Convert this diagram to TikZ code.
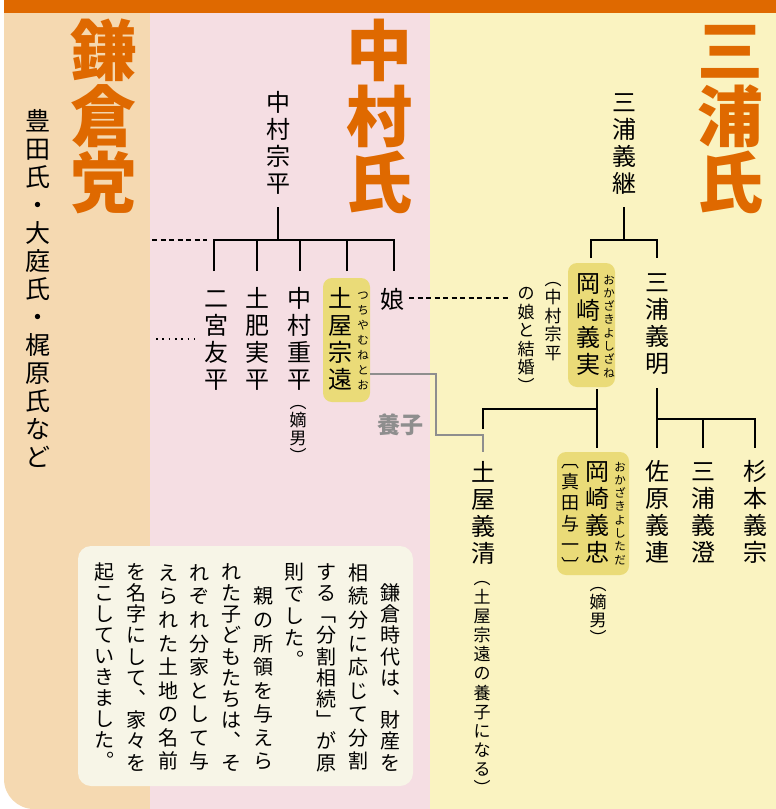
\documentclass[tikz,border=0pt]{standalone}
\usepackage{fontspec}
\newfontfamily\jp{Noto Sans CJK JP}
\definecolor{orng}{HTML}{DF6900}
\definecolor{beige}{HTML}{F5D9B1}
\definecolor{pinkbg}{HTML}{F5DEE3}
\definecolor{yelbg}{HTML}{FAF3C1}
\definecolor{hlyel}{HTML}{EADB78}
\definecolor{cream}{HTML}{F7F5E7}
\definecolor{graylink}{HTML}{8E8E8E}
\tikzset{
  fs/.style={font=\jp\fontsize{#1}{#1}\selectfont, text height={0.88*#1pt}, text depth={0.12*#1pt}},
  vchar/.style={inner sep=0pt, outer sep=0pt, anchor=center},
  nm/.style={fs=24},
  ttl/.style={fs=66, font=\jp\bfseries\fontsize{66}{66}\selectfont, text=orng},
  side/.style={fs=25},
  nt/.style={fs=17},
  sd/.style={fs=18},
  rb/.style={fs=11.5},
  pr/.style={fs=20},
  ln/.style={line width=1.9pt, black},
  dashln/.style={line width=1.6pt, black, dash pattern=on 5pt off 3.5pt},
  dotln/.style={line width=1.6pt, black, dash pattern=on 1.6pt off 4.7pt},
  grayln/.style={line width=1.9pt, graylink},
  hl/.style={fill=hlyel, rounded corners=9pt, inner sep=0pt, draw=none},
  expbox/.style={fill=cream, rounded corners=13pt, inner sep=0pt, draw=none},
  yoshilbl/.style={font=\jp\bfseries\fontsize{23}{23}\selectfont, text=graylink, inner sep=0pt}
}
\newcount\vcnt
\def\vcol#1#2#3#4#5#6{%
  \tikzset{vcst/.style={#5}}%
  \def\vcname{#1}\def\vcx{#2}\def\vcp{#4}\def\vcc{#3}%
  \global\vcnt=0\relax
  \vcolA#6\relax}
\def\vcolA#1{\ifx#1\relax\else\vcolB#1\expandafter\vcolA\fi}
\def\vcolB#1{%
  \def\vctype{0}%
  \ifx#1︵\def\vctype{1}\fi \ifx#1︹\def\vctype{1}\fi
  \ifx#1︶\def\vctype{2}\fi \ifx#1︺\def\vctype{2}\fi
  \ifx#1︒\def\vctype{2}\fi
  \ifcase\vctype\relax
    \pgfmathsetmacro\vcpos{\vcc+\vcp/2}\pgfmathsetmacro\vcc{\vcc+\vcp}%
  \or
    \pgfmathsetmacro\vcpos{\vcc}\pgfmathsetmacro\vcc{\vcc+\vcp/2}%
  \else
    \pgfmathsetmacro\vcpos{\vcc+\vcp/2}\pgfmathsetmacro\vcc{\vcc+\vcp/2}%
  \fi
  \node[vchar,vcst] (\vcname-\the\vcnt) at (\vcx,\vcpos) {#1};%
  \global\advance\vcnt by 1\relax}
\begin{document}
\begin{tikzpicture}[x=1pt,y=-1pt]
\useasboundingbox (0,0) rectangle (776,809);
% background panels
\begin{scope}
\clip[rounded corners=30pt] (4,-60) rectangle (840,809);
\fill[orng] (0,-60) rectangle (840,13);
\fill[beige] (0,13) rectangle (150,809);
\fill[pinkbg] (150,13) rectangle (430,809);
\fill[yelbg] (430,13) rectangle (840,809);
\end{scope}
% highlight boxes and explanation box
\node[hl, minimum width=47pt, minimum height=124pt] (hl-munetoo) at (346.5,340) {};
\node[hl, minimum width=47pt, minimum height=124pt] (hl-yoshizane) at (591.5,325) {};
\node[hl, minimum width=72pt, minimum height=123pt] (hl-yoshitada) at (593,513.5) {};
\node[expbox, minimum width=335pt, minimum height=240pt] (expl) at (245.5,666) {};
% connector coordinates: Nakamura
\coordinate (nm-a) at (278,207);
\coordinate (nm-b) at (278,240);
\coordinate (nm-l) at (214,240);
\coordinate (nm-r) at (394,240);
\coordinate (nm-d1) at (214,271);
\coordinate (nm-d2) at (257,271);
\coordinate (nm-d3) at (300,271);
\coordinate (nm-d4) at (347,271);
\coordinate (nm-d5) at (394,271);
\coordinate (ds1-a) at (152,240);
\coordinate (ds1-b) at (207,240);
\coordinate (dt-a) at (156,339);
\coordinate (dt-b) at (199,339);
\coordinate (ds2-a) at (409,298);
\coordinate (ds2-b) at (508,298);
\draw[ln] (nm-a) -- (nm-b);
\draw[ln] (nm-d1) -- (nm-l) -- (nm-r) -- (nm-d5);
\draw[ln] (nm-d2) -- (nm-d2 |- nm-b);
\draw[ln] (nm-d3) -- (nm-d3 |- nm-b);
\draw[ln] (nm-d4) -- (nm-d4 |- nm-b);
\draw[dashln] (ds1-a) -- (ds1-b);
\draw[dotln] (dt-a) -- (dt-b);
\draw[dashln] (ds2-a) -- (ds2-b);
% Miura
\coordinate (mu-a) at (624,207);
\coordinate (mu-b) at (624,240);
\coordinate (mu-l) at (591,240);
\coordinate (mu-r) at (657,240);
\coordinate (mu-dl) at (591,258);
\coordinate (mu-dr) at (657,258);
\draw[ln] (mu-a) -- (mu-b);
\draw[ln] (mu-dl) -- (mu-l) -- (mu-r) -- (mu-dr);
\coordinate (yz-a) at (597,389);
\coordinate (yz-b) at (597,448);
\coordinate (yz-j) at (597,409);
\coordinate (yz-l) at (483,409);
\coordinate (yz-d) at (483,429);
\draw[ln] (yz-a) -- (yz-b);
\draw[ln] (yz-d) -- (yz-l) -- (yz-j);
\coordinate (ya-a) at (657,388);
\coordinate (ya-b) at (657,448);
\coordinate (ya-j) at (657,419);
\coordinate (ya-r) at (755,419);
\coordinate (ya-d2) at (703,448);
\coordinate (ya-d3) at (755,448);
\draw[ln] (ya-a) -- (ya-b);
\draw[ln] (ya-j) -- (ya-r) -- (ya-d3);
\draw[ln] (ya-d2) -- (ya-d2 |- ya-j);
% adoption link
\coordinate (ad-a) at (370,374);
\coordinate (ad-b) at (436,374);
\coordinate (ad-c) at (436,435);
\coordinate (ad-d) at (483,435);
\coordinate (ad-e) at (483,452);
\draw[grayln] (ad-a) -- (ad-b) -- (ad-c) -- (ad-d) -- (ad-e);
\node[yoshilbl] (yoshi-label) at (400,425) {養子};
% titles
\vcol{ttl1}{103}{17}{66}{ttl}{鎌倉党}
\vcol{ttl2}{379}{17}{66}{ttl}{中村氏}
\vcol{ttl3}{730}{17}{66}{ttl}{三浦氏}
\vcol{kmk}{38}{107}{28}{side}{豊田氏・大庭氏・梶原氏など}
% names
\vcol{munehira}{278}{89}{27}{nm}{中村宗平}
\vcol{yoshitsugu}{624}{89}{27}{nm}{三浦義継}
\vcol{ninomiya}{216}{285}{27}{nm}{二宮友平}
\vcol{doi}{257}{285}{27}{nm}{土肥実平}
\vcol{shigehira}{299}{285}{27}{nm}{中村重平}
\vcol{munetoo}{340}{285}{27}{nm}{土屋宗遠}
\vcol{musume}{392}{286}{27}{nm}{娘}
\vcol{yoshizane}{588}{270}{27}{nm}{岡崎義実}
\vcol{yoshiaki}{657}{269}{27}{nm}{三浦義明}
\vcol{yoshikiyo}{483}{459}{27}{nm}{土屋義清}
\vcol{yoshitada}{597}{458}{27}{nm}{岡崎義忠}
\vcol{yoshitsura}{657}{458}{27}{nm}{佐原義連}
\vcol{yoshizumi}{703}{458}{27}{nm}{三浦義澄}
\vcol{yoshimune}{755}{458}{27}{nm}{杉本義宗}
% notes
\vcol{noteA}{553}{279}{18.5}{nt}{︵中村宗平}
\vcol{noteB}{526}{284}{18.5}{nt}{の娘と結婚︶}
\vcol{chak1}{298}{402}{18}{nt}{︵嫡男︶}
\vcol{chak2}{598}{584}{18}{nt}{︵嫡男︶}
\vcol{sanada}{570}{461}{21}{sd}{︹真田与一︺}
\vcol{yoshinote}{482}{578}{19.1}{nt}{︵土屋宗遠の養子になる︶}
% ruby
\vcol{rb1}{363}{288}{14.9}{rb}{つちやむねとお}
\vcol{rb2}{609}{273}{13.3}{rb}{おかざきよしざね}
\vcol{rb3}{620}{460}{13.3}{rb}{おかざきよしただ}
% explanation
\vcol{p1}{390}{582.2}{21.2}{pr}{鎌倉時代は︑財産を}
\vcol{p2}{358.3}{561}{23.56}{pr}{相続分に応じて分割}
\vcol{p3}{326.6}{561}{21.2}{pr}{する﹁分割相続﹂が原}
\vcol{p4}{294.9}{561}{22}{pr}{則でした︒}
\vcol{p5}{263.2}{584.6}{23.56}{pr}{親の所領を与えら}
\vcol{p6}{231.5}{561}{21.2}{pr}{れた子どもたちは︑そ}
\vcol{p7}{199.8}{561}{23.56}{pr}{れぞれ分家として与}
\vcol{p8}{168.1}{561}{23.56}{pr}{えられた土地の名前}
\vcol{p9}{136.4}{561}{21.2}{pr}{を名字にして︑家々を}
\vcol{p10}{104.7}{561}{21}{pr}{起こしていきました︒}
\end{tikzpicture}
\end{document}
